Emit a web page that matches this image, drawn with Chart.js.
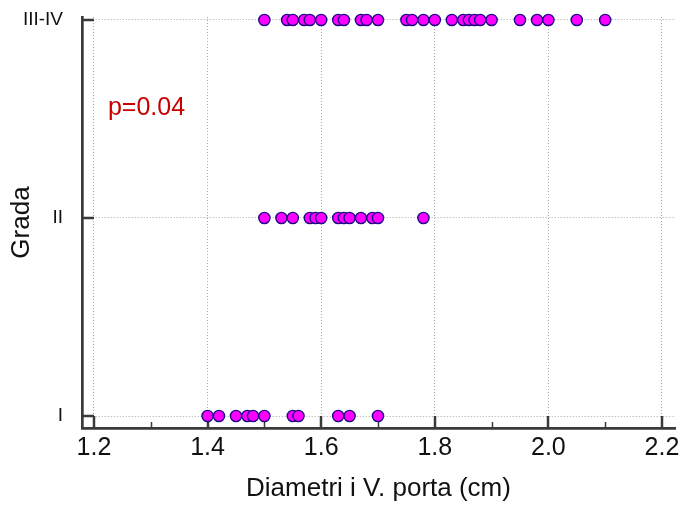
<!DOCTYPE html>
<html>
<head>
<meta charset="utf-8">
<script src="https://cdn.jsdelivr.net/npm/chart.js@4/dist/chart.umd.min.js"></script>
<style>
  html, body { margin: 0; padding: 0; background: #fff; }
  #wrap { width: 683px; height: 508px; }
</style>
</head>
<body>
<div id="wrap"><canvas id="chart" width="683" height="508"></canvas></div>
<script>
// grades on the y axis, bottom to top
const grades = ['I', 'II', 'III-IV'];

// portal vein diameter (cm) per grade
const diamI = [1.40, 1.42, 1.45, 1.47, 1.48, 1.50, 1.55, 1.56, 1.63, 1.65, 1.70];
const diamII = [1.50, 1.53, 1.55, 1.58, 1.59, 1.60, 1.63, 1.64, 1.65, 1.67, 1.69, 1.70, 1.78];
const diamIIIIV = [1.50, 1.54, 1.55, 1.57, 1.58, 1.60, 1.63, 1.64, 1.67, 1.68, 1.70,
  1.75, 1.76, 1.78, 1.80, 1.83, 1.85, 1.86, 1.87, 1.88, 1.90, 1.95, 1.98, 2.00, 2.05, 2.10];

const xTicks = [1.2, 1.4, 1.6, 1.8, 2.0, 2.2];
const xMinor = [1.3, 1.5, 1.7, 1.9, 2.1];

const pLabel = 'p=0.04';
const pAt = { x: 1.2246, y: 2.52 };

const AXIS = '#3a3a3a';
const FONT = "'Liberation Sans', Arial, sans-serif";

const series = [diamI, diamII, diamIIIIV];
const datasets = series.map((vals, i) => ({
  label: grades[i],
  data: vals.map(v => ({ x: v, y: i + 1 })),
  pointRadius: 5.6,
  pointHoverRadius: 5.6,
  pointBackgroundColor: '#ff00ff',
  pointBorderColor: '#1b0a84',
  pointBorderWidth: 1.4,
  showLine: false,
  clip: false
}));

// inward tick marks and the p-value note
const decor = {
  id: 'decor',
  beforeDatasetsDraw(chart) {
    const { ctx, chartArea: a } = chart;
    const xs = chart.scales.x, ys = chart.scales.y;
    ctx.save();
    ctx.strokeStyle = AXIS;
    ctx.lineWidth = 2.5;
    ctx.beginPath();
    xTicks.forEach(v => {
      const px = Math.round(xs.getPixelForValue(v));
      ctx.moveTo(px, a.bottom);
      ctx.lineTo(px, a.bottom - 12);
    });
    [1, 2, 3].forEach(v => {
      const py = Math.round(ys.getPixelForValue(v));
      ctx.moveTo(a.left, py);
      ctx.lineTo(a.left + 12, py);
    });
    ctx.stroke();
    ctx.lineWidth = 1.5;
    ctx.beginPath();
    xMinor.forEach(v => {
      const px = Math.round(xs.getPixelForValue(v)) + 0.5;
      ctx.moveTo(px, a.bottom);
      ctx.lineTo(px, a.bottom - 6);
    });
    ctx.stroke();

    ctx.fillStyle = '#c80000';
    ctx.font = '25px ' + FONT;
    ctx.textAlign = 'left';
    ctx.textBaseline = 'alphabetic';
    ctx.fillText(pLabel, xs.getPixelForValue(pAt.x), ys.getPixelForValue(pAt.y));
    ctx.restore();
  }
};

new Chart(document.getElementById('chart'), {
  type: 'scatter',
  data: { datasets },
  options: {
    responsive: false,
    animation: false,
    layout: { padding: { top: 17, right: 8, left: 0, bottom: 0 } },
    plugins: { legend: { display: false }, tooltip: { enabled: false } },
    scales: {
      x: {
        type: 'linear',
        min: 1.1789,
        max: 2.2229,
        afterBuildTicks: s => { s.ticks = xTicks.map(v => ({ value: v })); },
        afterFit: s => { s.height = 80; s.paddingLeft = 0; s.paddingRight = 0; },
        ticks: {
          color: '#111',
          font: { family: FONT, size: 25 },
          padding: 5,
          maxRotation: 0,
          callback: v => v.toFixed(1)
        },
        grid: { color: '#a8a8a8', lineWidth: 1, drawTicks: false },
        border: { color: AXIS, width: 2.7, dash: [1, 2] },
        title: {
          display: true,
          text: 'Diametri i V. porta (cm)',
          color: '#111',
          font: { family: FONT, size: 26 },
          padding: { top: 0, bottom: 4 }
        }
      },
      y: {
        type: 'linear',
        min: 0.9394,
        max: 3.015,
        afterBuildTicks: s => { s.ticks = grades.map((g, i) => ({ value: i + 1 })); },
        afterFit: s => { s.width = 82; s.paddingTop = 0; s.paddingBottom = 0; },
        ticks: {
          color: '#111',
          font: { family: FONT, size: 19 },
          padding: 19,
          callback: v => grades[v - 1] ?? ''
        },
        grid: { color: '#a8a8a8', lineWidth: 1, drawTicks: false },
        border: { color: AXIS, width: 2.7, dash: [1, 2] },
        title: {
          display: true,
          text: 'Grada',
          color: '#111',
          font: { family: FONT, size: 26 },
          padding: { top: 6, bottom: 0 }
        }
      }
    }
  },
  plugins: [decor]
});
</script>
</body>
</html>
